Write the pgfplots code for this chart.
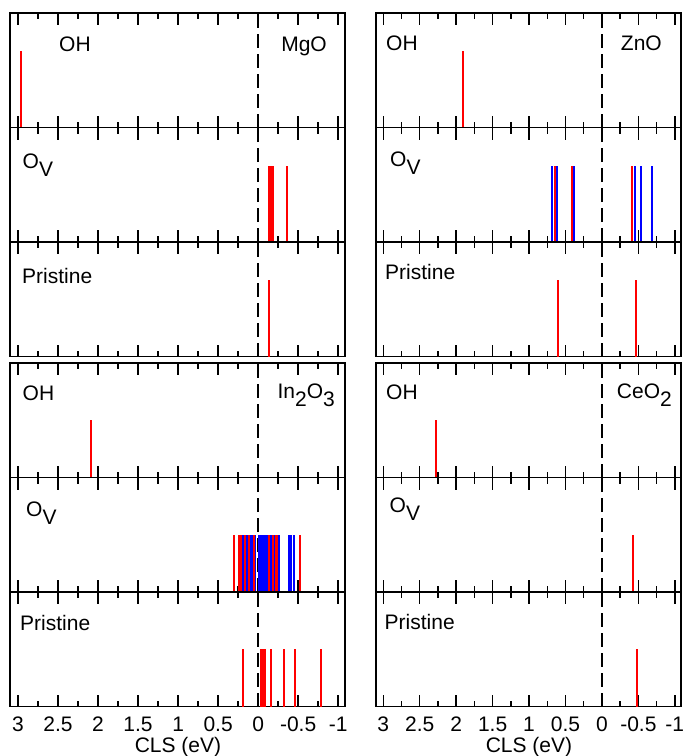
\documentclass[border=0pt]{standalone}
\usepackage{pgfplots}
\pgfplotsset{compat=1.18}
\usepackage{fontspec}
\setmainfont{Liberation Sans}

\newcommand{\lblfont}{\fontsize{21}{25}\selectfont}
\newcommand{\lowsub}[1]{\raisebox{-8pt}{#1}}

\pgfplotsset{
  cls/.style={
    scale only axis, anchor=north west, height=114.5pt,
    x dir=reverse, xmin=-1.085, xmax=3.1, ymin=0, ymax=1,
    xtick={-1,-0.5,0,0.5,1,1.5,2,2.5,3}, minor x tick num=1,
    ytick=\empty, xticklabels=\empty,
    xtick pos=both, xtick align=inside,
    major tick length=12pt, minor tick length=6pt,
    every major tick/.append style={draw=black, line width=1.4pt},
    every minor tick/.append style={draw=black, line width=1.4pt},
    axis line style={line width=1.4pt},
  },
  lastrow/.style={
    xticklabels={-1,-0.5,0,0.5,1,1.5,2,2.5,3},
    xticklabel style={font=\lblfont, yshift=-7pt},
  },
  zero/.style={black, line width=1.8pt, dash pattern=on 14pt off 6pt, forget plot},
  bar/.style={ycomb, mark=none, line width=2pt, draw=#1},
}

\begin{document}
\begin{tikzpicture}
\useasboundingbox (0,0) rectangle (683pt,-756pt);

% ---------------- MgO (top left) ----------------
\begin{axis}[cls, width=335pt, at={(10pt,-13pt)}]
\addplot[zero] coordinates {(0,0) (0,1)};
\addplot[bar=red] coordinates {(2.96,0.667)};
\end{axis}
\begin{axis}[cls, width=335pt, at={(10pt,-127.5pt)}]
\addplot[zero] coordinates {(0,0) (0,1)};
\addplot[bar=red] coordinates {(-0.135,0.667) (-0.15,0.667) (-0.165,0.667) (-0.18,0.667) (-0.36,0.667)};
\end{axis}
\begin{axis}[cls, width=335pt, at={(10pt,-242pt)}]
\addplot[zero] coordinates {(0,0) (0,1)};
\addplot[bar=red] coordinates {(-0.133,0.667)};
\end{axis}

% ---------------- ZnO (top right) ----------------
\begin{axis}[cls, width=305pt, at={(376pt,-13pt)}]
\addplot[zero] coordinates {(0,0) (0,1)};
\addplot[bar=red] coordinates {(1.90,0.667)};
\end{axis}
\begin{axis}[cls, width=305pt, at={(376pt,-127.5pt)}]
\addplot[zero] coordinates {(0,0) (0,1)};
\addplot[bar=red] coordinates {(0.65,0.667) (0.41,0.667) (-0.416,0.667)};
\addplot[bar=blue] coordinates {(0.686,0.667) (0.613,0.667) (0.39,0.667) (-0.457,0.667) (-0.53,0.667) (-0.69,0.667)};
\end{axis}
\begin{axis}[cls, width=305pt, at={(376pt,-242pt)}]
\addplot[zero] coordinates {(0,0) (0,1)};
\addplot[bar=red] coordinates {(0.60,0.667) (-0.47,0.667)};
\end{axis}

% ---------------- In2O3 (bottom left) ----------------
\begin{axis}[cls, width=335pt, at={(10pt,-363pt)}]
\addplot[zero] coordinates {(0,0) (0,1)};
\addplot[bar=red] coordinates {(2.09,0.5)};
\end{axis}
\begin{axis}[cls, width=335pt, at={(10pt,-477.5pt)}]
\addplot[zero] coordinates {(0,0) (0,1)};
\addplot[bar=blue] coordinates {
 (0.20,0.5) (0.18,0.5) (0.15,0.5) (0.13,0.5) (0.095,0.5) (0.075,0.5) (0.035,0.5)
 (-0.005,0.5) (-0.02,0.5) (-0.035,0.5) (-0.05,0.5) (-0.065,0.5) (-0.08,0.5)
 (-0.095,0.5) (-0.11,0.5) (-0.125,0.5) (-0.14,0.5) (-0.155,0.5) (-0.17,0.5)
 (-0.20,0.5) (-0.26,0.5) (-0.39,0.5) (-0.415,0.5) (-0.45,0.5)};
\addplot[bar=red] coordinates {
 (0.305,0.5) (0.24,0.5) (0.22,0.5) (0.17,0.5) (0.11,0.5) (0.055,0.5)
 (-0.13,0.5) (-0.19,0.5) (-0.22,0.5) (-0.24,0.5) (-0.52,0.5)};
\end{axis}
\begin{axis}[cls, lastrow, width=335pt, at={(10pt,-592pt)}]
\addplot[zero] coordinates {(0,0) (0,1)};
\addplot[bar=red] coordinates {(0.195,0.5) (-0.035,0.5) (-0.06,0.5) (-0.085,0.5)
 (-0.165,0.5) (-0.32,0.5) (-0.465,0.5) (-0.78,0.5)};
\end{axis}

% ---------------- CeO2 (bottom right) ----------------
\begin{axis}[cls, width=305pt, at={(376pt,-363pt)}]
\addplot[zero] coordinates {(0,0) (0,1)};
\addplot[bar=red] coordinates {(2.27,0.5)};
\end{axis}
\begin{axis}[cls, width=305pt, at={(376pt,-477.5pt)}]
\addplot[zero] coordinates {(0,0) (0,1)};
\addplot[bar=red] coordinates {(-0.43,0.5)};
\end{axis}
\begin{axis}[cls, lastrow, width=305pt, at={(376pt,-592pt)}]
\addplot[zero] coordinates {(0,0) (0,1)};
\addplot[bar=red] coordinates {(-0.48,0.5)};
\end{axis}

% ---------------- labels ----------------
\begin{scope}[every node/.style={font=\lblfont, inner sep=0pt}]
\node[anchor=base west] at (59pt,-51pt) {OH};
\node[anchor=base east] at (327pt,-51pt) {MgO};
\node[anchor=base west] at (22.5pt,-168pt) {O\lowsub{V}};
\node[anchor=base west] at (22pt,-283pt) {Pristine};

\node[anchor=base west] at (386pt,-50pt) {OH};
\node[anchor=base east] at (662pt,-50pt) {ZnO};
\node[anchor=base west] at (390pt,-166.5pt) {O\lowsub{V}};
\node[anchor=base west] at (385pt,-279.5pt) {Pristine};

\node[anchor=base west] at (22.5pt,-400pt) {OH};
\node[anchor=base east] at (335pt,-398.5pt) {In\lowsub{2}O\lowsub{3}};
\node[anchor=base west] at (26pt,-516.5pt) {O\lowsub{V}};
\node[anchor=base west] at (20pt,-630pt) {Pristine};

\node[anchor=base west] at (386pt,-399pt) {OH};
\node[anchor=base east] at (672pt,-398pt) {CeO\lowsub{2}};
\node[anchor=base west] at (389.5pt,-512pt) {O\lowsub{V}};
\node[anchor=base west] at (384.5pt,-629.5pt) {Pristine};

\node[anchor=base] at (178pt,-752pt) {CLS (eV)};
\node[anchor=base] at (529pt,-752pt) {CLS (eV)};
\end{scope}
\end{tikzpicture}
\end{document}
